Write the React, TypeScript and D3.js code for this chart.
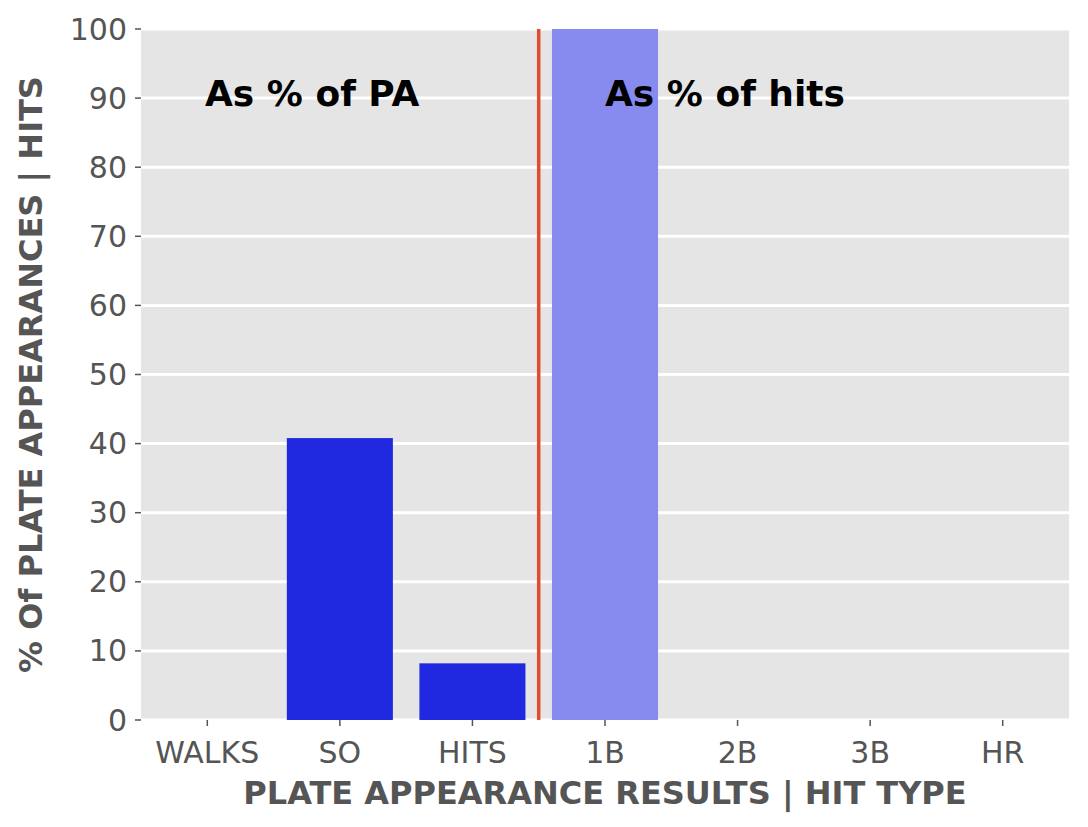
import * as d3 from "d3";

const categories = ["WALKS", "SO", "HITS", "1B", "2B", "3B", "HR"];
const values = [0, 40.8, 8.2, 100, 0, 0, 0];
const colors = ["#2029df", "#2029df", "#2029df", "#878bef", "#878bef", "#878bef", "#878bef"];
const yTicks = [0, 10, 20, 30, 40, 50, 60, 70, 80, 90, 100];

const App = () => {
  const width = 1088;
  const height = 827;
  const margin = { top: 29, right: 19, bottom: 107, left: 141 };
  const font = "DejaVu Sans, sans-serif";

  const x = d3
    .scaleBand()
    .domain(categories)
    .range([margin.left, width - margin.right])
    .paddingInner(0.2)
    .paddingOuter(0.1);
  const y = d3.scaleLinear().domain([0, 100]).range([height - margin.bottom, margin.top]);
  const step = x.step();
  const splitX = margin.left + step * 3;

  return (
    <svg width={width} height={height} style={{ position: "absolute", left: 0, top: 0 }}>
      <rect width={width} height={height} fill="white" />
      <rect
        x={margin.left}
        y={margin.top}
        width={width - margin.left - margin.right}
        height={height - margin.top - margin.bottom}
        fill="#e5e5e5"
      />
      {yTicks.map((t) => (
        <g key={t}>
          <line x1={margin.left} x2={width - margin.right} y1={y(t)} y2={y(t)} stroke="white" strokeWidth={3} />
          <line x1={margin.left - 6} x2={margin.left} y1={y(t)} y2={y(t)} stroke="#555" strokeWidth={1.5} />
          <text x={margin.left - 14} y={y(t)} dy="0.35em" textAnchor="end" fontSize={30} fill="#555" fontFamily={font}>
            {t}
          </text>
        </g>
      ))}
      {categories.map((c, i) => (
        <g key={c}>
          <rect x={x(c)!} y={y(values[i])} width={x.bandwidth()} height={y(0) - y(values[i])} fill={colors[i]} />
          <line
            x1={x(c)! + x.bandwidth() / 2}
            x2={x(c)! + x.bandwidth() / 2}
            y1={y(0)}
            y2={y(0) + 6}
            stroke="#555"
            strokeWidth={1.5}
          />
          <text x={x(c)! + x.bandwidth() / 2} y={y(0) + 43} textAnchor="middle" fontSize={30} fill="#555" fontFamily={font}>
            {c}
          </text>
        </g>
      ))}
      <line x1={splitX} x2={splitX} y1={margin.top} y2={y(0)} stroke="#e24a33" strokeWidth={3.5} />
      <text x={205} y={93} dy="0.35em" fontSize={36} fontWeight="bold" fontFamily={font}>
        As % of PA
      </text>
      <text x={605} y={93} dy="0.35em" fontSize={36} fontWeight="bold" fontFamily={font}>
        As % of hits
      </text>
      <text
        x={605}
        y={804}
        textAnchor="middle"
        fontSize={32}
        fontWeight="bold"
        fill="#555"
        fontFamily={font}
      >
        PLATE APPEARANCE RESULTS | HIT TYPE
      </text>
      <text
        transform={`translate(42, ${(margin.top + y(0)) / 2}) rotate(-90)`}
        textAnchor="middle"
        fontSize={32}
        fontWeight="bold"
        fill="#555"
        fontFamily={font}
      >
        % Of PLATE APPEARANCES | HITS
      </text>
    </svg>
  );
};

export default App;
